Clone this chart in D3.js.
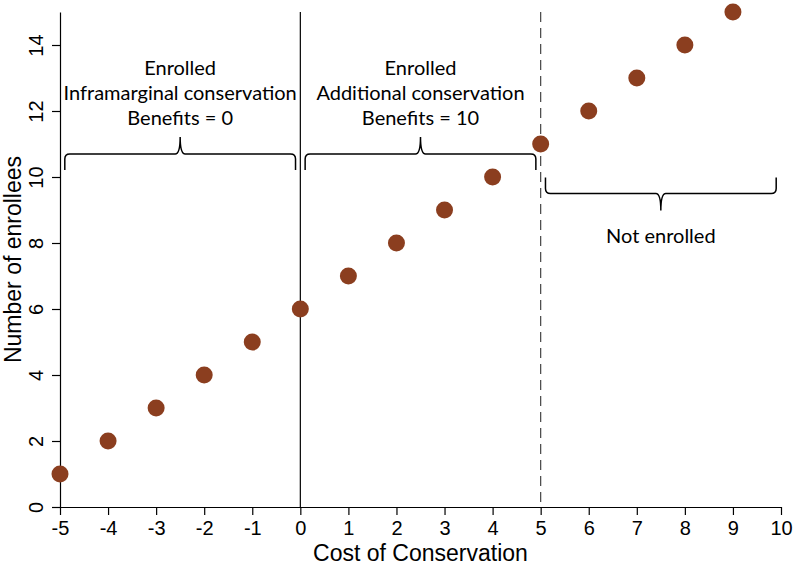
<!DOCTYPE html>
<html>
<head>
<meta charset="utf-8">
<script src="https://cdn.jsdelivr.net/npm/d3@7"></script>
<style>
  body { margin: 0; background: #fff; }
  .axis text { font-family: "Liberation Sans", Arial, sans-serif; font-size: 20px; fill: #000; }
  .axis path, .axis line { stroke: #000; stroke-width: 1.2; }
  .note { font-family: Lato, "Open Sans", sans-serif; font-size: 20px; fill: #000; }
  .title { font-family: "Liberation Sans", Arial, sans-serif; font-size: 23px; fill: #000; }
</style>
</head>
<body>
<div id="chart"></div>
<script>
var svgWidth = 793;
var svgHeight = 566;

var margin = { top: 12, right: 12, bottom: 59, left: 60 };

var width = svgWidth - margin.left - margin.right;
var height = svgHeight - margin.top - margin.bottom;

// data
var costs = [-5, -4, -3, -2, -1, 0, 1, 2, 3, 4, 5, 6, 7, 8, 9];
var enrollees = [1, 2, 3, 4, 5, 6, 7, 8, 9, 10, 11, 12, 13, 14, 15];
var xTicks = [-5, -4, -3, -2, -1, 0, 1, 2, 3, 4, 5, 6, 7, 8, 9, 10];
var yTicks = [0, 2, 4, 6, 8, 10, 12, 14];

// braces: from, to, y level, direction (-1 = tip up, 1 = tip down)
var braceFrom = [-4.9, 0.1, 5.1];
var braceTo = [-0.1, 4.9, 9.9];
var braceY = [10.7, 10.7, 9.5];
var braceDir = [-1, -1, 1];

var noteLines = [
  ["Enrolled", "Inframarginal conservation", "Benefits = 0"],
  ["Enrolled", "Additional conservation", "Benefits = 10"],
  ["Not enrolled"]
];
var noteX = [-2.5, 2.5, 7.5];
var noteTopY = [13.1, 13.1, 8.0];

var svg = d3.select("#chart")
  .append("svg")
  .attr("width", svgWidth)
  .attr("height", svgHeight);

var chartGroup = svg.append("g")
  .attr("transform", `translate(${margin.left}, ${margin.top})`);

var xScale = d3.scaleLinear().domain([-5, 10]).range([0, width]);
var yScale = d3.scaleLinear().domain([0, 15]).range([height, 0]);

// x axis (plain hyphen for negatives, like the original)
var xAxis = chartGroup.append("g")
  .attr("class", "axis")
  .attr("transform", `translate(0, ${height})`)
  .call(d3.axisBottom(xScale).tickValues(xTicks).tickFormat(d => String(d))
    .tickSize(8).tickSizeOuter(0).tickPadding(6));

// y axis
var yAxis = chartGroup.append("g")
  .attr("class", "axis")
  .call(d3.axisLeft(yScale).tickValues(yTicks).tickSize(8).tickSizeOuter(0));

yAxis.selectAll(".tick text")
  .attr("x", 0)
  .attr("y", 0)
  .attr("dy", 0)
  .attr("text-anchor", "middle")
  .attr("transform", "translate(-17,0) rotate(-90)");

// axis titles
chartGroup.append("text")
  .attr("class", "title")
  .attr("x", width / 2)
  .attr("y", height + 54)
  .attr("text-anchor", "middle")
  .text("Cost of Conservation");

chartGroup.append("text")
  .attr("class", "title")
  .attr("transform", "rotate(-90)")
  .attr("x", -height / 2)
  .attr("y", -39)
  .attr("text-anchor", "middle")
  .text("Number of enrollees");

// reference lines
chartGroup.append("line")
  .attr("x1", xScale(0)).attr("x2", xScale(0))
  .attr("y1", yScale(15)).attr("y2", yScale(0))
  .attr("stroke", "#000")
  .attr("stroke-width", 1.2);

chartGroup.append("line")
  .attr("x1", xScale(5)).attr("x2", xScale(5))
  .attr("y1", yScale(15)).attr("y2", yScale(0))
  .attr("stroke", "#444")
  .attr("stroke-width", 1.2)
  .attr("stroke-dasharray", "10,6");

// braces
function bracePath(i) {
  var x0 = xScale(braceFrom[i]);
  var x1 = xScale(braceTo[i]);
  var xm = (x0 + x1) / 2;
  var y = yScale(braceY[i]);
  var d = braceDir[i];
  var leg = 16 * -d;   // ends curl away from tip
  var tip = 17 * d;
  var r = 5;
  return "M" + x0 + "," + (y + leg) +
    " L" + x0 + "," + (y - r * d) +
    " Q" + x0 + "," + y + " " + (x0 + r) + "," + y +
    " L" + (xm - 5) + "," + y +
    " Q" + xm + "," + y + " " + xm + "," + (y + tip) +
    " Q" + xm + "," + y + " " + (xm + 5) + "," + y +
    " L" + (x1 - r) + "," + y +
    " Q" + x1 + "," + y + " " + x1 + "," + (y - r * d) +
    " L" + x1 + "," + (y + leg);
}

chartGroup.selectAll(".brace")
  .data(braceFrom)
  .enter()
  .append("path")
  .attr("class", "brace")
  .attr("d", (d, i) => bracePath(i))
  .attr("fill", "none")
  .attr("stroke", "#000")
  .attr("stroke-width", 1.5);

// notes
noteLines.forEach(function(lines, i) {
  var t = chartGroup.append("text")
    .attr("class", "note")
    .attr("text-anchor", "middle")
    .attr("x", xScale(noteX[i]))
    .attr("y", yScale(noteTopY[i]));
  lines.forEach(function(line, j) {
    t.append("tspan")
      .attr("x", xScale(noteX[i]))
      .attr("dy", j === 0 ? 0 : 25)
      .text(line);
  });
});

// points
chartGroup.selectAll("circle")
  .data(costs)
  .enter()
  .append("circle")
  .attr("cx", d => xScale(d))
  .attr("cy", (d, i) => yScale(enrollees[i]))
  .attr("r", 8.5)
  .attr("fill", "#8b3e1f");
</script>
</body>
</html>
